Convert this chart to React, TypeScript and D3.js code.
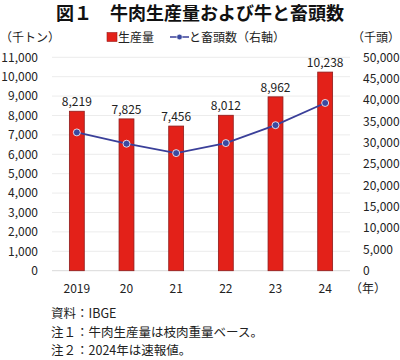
import React from "react";
import * as d3 from "d3";

const years = ["2019", "20", "21", "22", "23", "24"];
const production = [8219, 7825, 7456, 8012, 8962, 10238];
const slaughter = [32400, 29750, 27550, 29900, 34100, 39300];
const leftTicks = [0, 1000, 2000, 3000, 4000, 5000, 6000, 7000, 8000, 9000, 10000, 11000];
const rightTicks = [0, 5000, 10000, 15000, 20000, 25000, 30000, 35000, 40000, 45000, 50000];
const notes = ["資料：IBGE", "注１：牛肉生産量は枝肉重量ベース。", "注２：2024年は速報値。"];

const FONT = "'Noto Sans CJK JP', 'Noto Sans', sans-serif";

export default function App() {
  const W = 400, H = 360;
  const left = 52, right = 350, top = 57.3, bottom = 270.7;
  const x = d3.scaleBand<string>().domain(years).range([left, right]).paddingInner(0.7).paddingOuter(0.35);
  const yL = d3.scaleLinear().domain([0, 11000]).range([bottom, top]);
  const yR = d3.scaleLinear().domain([0, 50000]).range([bottom, top]);
  const fmt = d3.format(",");
  const line = d3.line<number>()
    .x((_, i) => (x(years[i]) as number) + x.bandwidth() / 2)
    .y((d) => yR(d));

  return (
    <svg width={W} height={H} style={{ position: "absolute", left: 0, top: 0, background: "#fff" }} fontFamily={FONT}>
      <rect width={W} height={H} fill="#fff" />
      <text x={200} y={20} textAnchor="middle" fontSize={18} fontWeight="bold" fill="#111">
        図１　牛肉生産量および牛と畜頭数
      </text>
      {/* axis titles */}
      <text x={0} y={42} fontSize={12} fill="#222">（千トン）</text>
      <text x={400} y={42} fontSize={12} fill="#222" textAnchor="end">（千頭）</text>
      {/* legend */}
      <rect x={107} y={32.5} width={10} height={9} fill="#e32119" stroke="#9b1c1c" strokeWidth={0.6} />
      <text x={118} y={42} fontSize={12} fill="#222">生産量</text>
      <line x1={170} x2={189} y1={37} y2={37} stroke="#3a3f99" strokeWidth={1.5} />
      <circle cx={179.5} cy={37} r={2.8} fill="#3a4aa0" stroke="#fff" strokeWidth={0.6} />
      <text x={189} y={42} fontSize={12} fill="#222">と畜頭数（右軸）</text>
      {/* gridlines */}
      {leftTicks.map((t) => (
        <line key={"g" + t} x1={left} x2={right} y1={yL(t)} y2={yL(t)} stroke={t === 0 ? "#d9d9d9" : "#ececec"} strokeWidth={1} />
      ))}
      {leftTicks.map((t) => (
        <text key={"l" + t} x={38} y={yL(t)} dy="0.35em" textAnchor="end" fontSize={12} fill="#222">{fmt(t)}</text>
      ))}
      {rightTicks.map((t) => (
        <text key={"r" + t} x={363} y={yR(t)} dy="0.35em" textAnchor="start" fontSize={12} fill="#222">{fmt(t)}</text>
      ))}
      {/* bars */}
      {production.map((v, i) => (
        <g key={"b" + i}>
          <rect x={x(years[i])} y={yL(v)} width={x.bandwidth()} height={yL(0) - yL(v)} fill="#e32119" stroke="#8e1b1b" strokeWidth={0.8} />
          <text x={(x(years[i]) as number) + x.bandwidth() / 2} y={yL(v) - 5} textAnchor="middle" fontSize={12} fill="#222">{fmt(v)}</text>
        </g>
      ))}
      {/* line */}
      <path d={line(slaughter) || ""} fill="none" stroke="#3a3f99" strokeWidth={1.8} />
      {slaughter.map((v, i) => (
        <circle key={"c" + i} cx={(x(years[i]) as number) + x.bandwidth() / 2} cy={yR(v)} r={3.5} fill="#3a4aa0" stroke="#fff" strokeWidth={0.8} />
      ))}
      {/* x labels */}
      {years.map((yv) => (
        <text key={"x" + yv} x={(x(yv) as number) + x.bandwidth() / 2} y={293} textAnchor="middle" fontSize={12} fill="#222">{yv}</text>
      ))}
      <text x={350} y={293} fontSize={12} fill="#222">（年）</text>
      {notes.map((n, i) => (
        <text key={"n" + i} x={51} y={318 + i * 18.5} fontSize={12.5} fill="#222">{n}</text>
      ))}
    </svg>
  );
}
